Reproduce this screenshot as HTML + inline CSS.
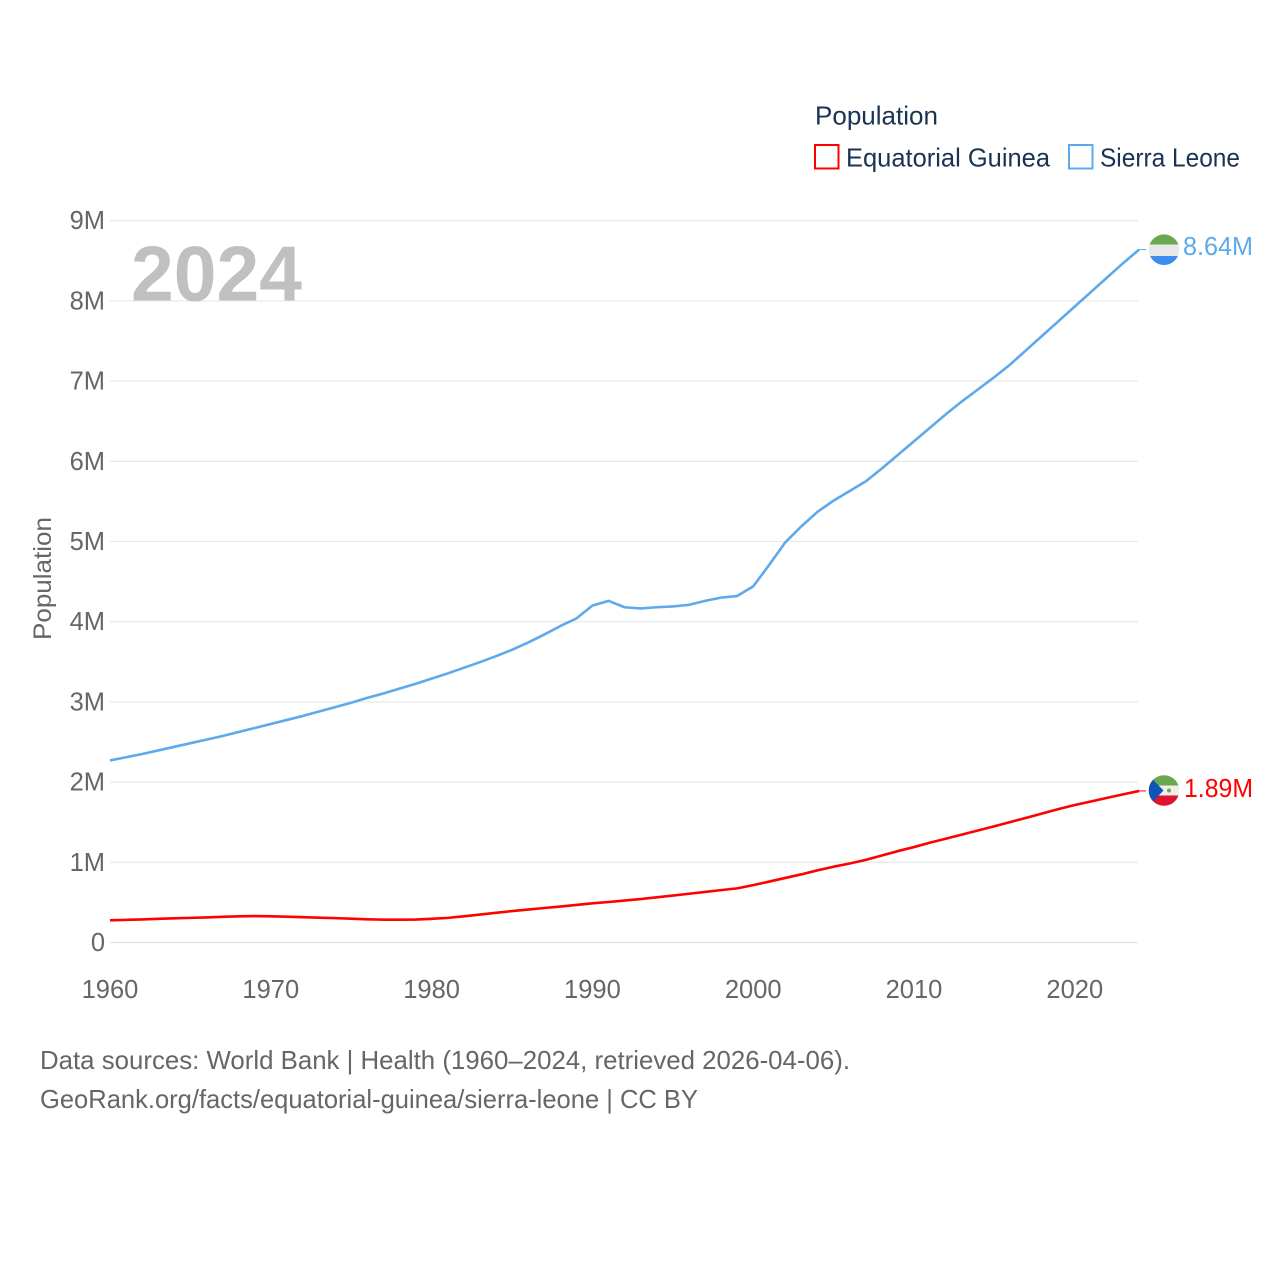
<!DOCTYPE html>
<html lang="en">
<head>
<meta charset="utf-8">
<title>Population: Equatorial Guinea and Sierra Leone</title>
<style>
html,body{margin:0;padding:0;background:#fff;width:1280px;height:1280px;overflow:hidden}
svg{display:block}
text{font-family:"Liberation Sans",sans-serif}
</style>
</head>
<body>
<svg id="chart" width="1280" height="1280" viewBox="0 0 1280 1280" xmlns="http://www.w3.org/2000/svg">
  <defs>
    <clipPath id="clip-sl"><circle cx="1164" cy="249.7" r="15.3"/></clipPath>
    <clipPath id="clip-eg"><circle cx="1164" cy="790.5" r="15.3"/></clipPath>
  </defs>
  <rect x="0" y="0" width="1280" height="1280" fill="#fff"/>
  <g id="grid"></g>
  <text x="131" y="300.5" font-size="78" font-weight="700" fill="#c0c0c0" textLength="171" lengthAdjust="spacingAndGlyphs">2024</text>
  <g id="yticks"></g>
  <g id="xticks"></g>
  <text transform="translate(51,640) rotate(-90)" font-size="25" fill="#666" textLength="123" lengthAdjust="spacingAndGlyphs">Population</text>
  <g id="series"></g>

  <g>
    <text x="815" y="124.5" font-size="26" fill="#1a3353" textLength="123" lengthAdjust="spacingAndGlyphs">Population</text>
    <g>
      <rect x="815" y="145" width="23.5" height="23.5" fill="#fff" stroke="#ff0000" stroke-width="2"/>
      <text x="846" y="166.5" font-size="26" fill="#1a3353" textLength="204" lengthAdjust="spacingAndGlyphs">Equatorial Guinea</text>
    </g>
    <g>
      <rect x="1069" y="145" width="23.5" height="23.5" fill="#fff" stroke="#5ea9ec" stroke-width="2"/>
      <text x="1100" y="166.5" font-size="26" fill="#1a3353" textLength="140" lengthAdjust="spacingAndGlyphs">Sierra Leone</text>
    </g>
  </g>

  <g clip-path="url(#clip-sl)">
    <rect x="1148" y="234" width="32" height="10.5" fill="#6aa84f"/>
    <rect x="1148" y="244.5" width="32" height="11.5" fill="#e8e8e8"/>
    <rect x="1148" y="256" width="32" height="10" fill="#3b8df0"/>
  </g>
  <g clip-path="url(#clip-eg)">
    <rect x="1148" y="775" width="32" height="10.5" fill="#6aa84f"/>
    <rect x="1148" y="785.5" width="32" height="10" fill="#eeeeee"/>
    <rect x="1148" y="795.5" width="32" height="11" fill="#e0122f"/>
    <polygon points="1148,774.5 1163.5,790.5 1148,806.5" fill="#0f55b5"/>
    <circle cx="1169" cy="790.5" r="2" fill="#6aa84f"/>
  </g>
  <text x="1183" y="255" font-size="26" fill="#5ea9ec" textLength="70" lengthAdjust="spacingAndGlyphs">8.64M</text>
  <text x="1184" y="797" font-size="26" fill="#ff0000" textLength="69" lengthAdjust="spacingAndGlyphs">1.89M</text>

  <text x="40" y="1069" font-size="26" fill="#666" textLength="810" lengthAdjust="spacingAndGlyphs">Data sources: World Bank | Health (1960–2024, retrieved 2026-04-06).</text>
  <text x="40" y="1108" font-size="26" fill="#666" textLength="658" lengthAdjust="spacingAndGlyphs">GeoRank.org/facts/equatorial-guinea/sierra-leone | CC BY</text>
</svg>
<script>
const startYear = 1960;
const yTickValues = [0, 1, 2, 3, 4, 5, 6, 7, 8, 9];
const yTickLabels = ["0", "1M", "2M", "3M", "4M", "5M", "6M", "7M", "8M", "9M"];
const xTickYears = [1960, 1970, 1980, 1990, 2000, 2010, 2020];
const sierraLeone = [
  2.27, 2.31, 2.35, 2.395, 2.44, 2.485, 2.53, 2.575, 2.625, 2.675,
  2.725, 2.775, 2.825, 2.88, 2.935, 2.99, 3.05, 3.105, 3.165, 3.225,
  3.29, 3.355, 3.425, 3.495, 3.57, 3.65, 3.74, 3.84, 3.945, 4.04,
  4.20, 4.26, 4.18, 4.165, 4.18, 4.19, 4.21, 4.26, 4.30, 4.32,
  4.44, 4.71, 4.99, 5.19, 5.37, 5.51, 5.63, 5.75, 5.91, 6.08,
  6.25, 6.42, 6.59, 6.75, 6.90, 7.05, 7.21, 7.39, 7.57, 7.75,
  7.93, 8.11, 8.29, 8.47, 8.64
];
const equatorialGuinea = [
  0.277, 0.282, 0.288, 0.295, 0.301, 0.307, 0.313, 0.320, 0.326, 0.330,
  0.327, 0.322, 0.316, 0.310, 0.304, 0.297, 0.289, 0.285, 0.284, 0.286,
  0.295, 0.307, 0.327, 0.348, 0.370, 0.392, 0.411, 0.430, 0.448, 0.468,
  0.489, 0.505, 0.523, 0.542, 0.563, 0.585, 0.608, 0.630, 0.653, 0.675,
  0.715, 0.760, 0.805, 0.850, 0.900, 0.945, 0.985, 1.030, 1.085, 1.140,
  1.190, 1.245, 1.295, 1.347, 1.398, 1.450, 1.503, 1.555, 1.610, 1.665,
  1.715, 1.758, 1.803, 1.847, 1.890
];

const SVG_NS = 'http://www.w3.org/2000/svg';
function xScale(year) { return 110 + (year - 1960) * 16.08; }
function yScale(m) { return 942.5 - m * 80.2; }
function make(tag, attrs, text) {
  const el = document.createElementNS(SVG_NS, tag);
  for (const k in attrs) el.setAttribute(k, attrs[k]);
  if (text !== undefined) el.textContent = text;
  return el;
}

const grid = document.getElementById('grid');
const yticks = document.getElementById('yticks');
yTickValues.forEach((v, i) => {
  const line = make('line', { x1: 110, x2: 1138, y1: yScale(v), y2: yScale(v), stroke: i === 0 ? '#e2e2e2' : '#eaeaea', 'stroke-width': 1.3 });
  
  
  grid.appendChild(line);
  const label = make('text', { x: 105, y: yScale(v) + 8.5, 'text-anchor': 'end', 'font-size': 25.5, fill: '#666' }, yTickLabels[i]);
  
  
  yticks.appendChild(label);
});

const xticks = document.getElementById('xticks');
xTickYears.forEach((year) => {
  const label = make('text', { x: xScale(year), y: 998, 'text-anchor': 'middle', 'font-size': 25.5, fill: '#666' }, String(year));
  
  
  xticks.appendChild(label);
});

function pointsFor(values) {
  return values.map((v, i) => xScale(startYear + i).toFixed(2) + ',' + yScale(v).toFixed(2)).join(' ');
}
const seriesGroup = document.getElementById('series');

const lineEG = make('polyline', { points: pointsFor(equatorialGuinea), fill: 'none', stroke: '#ff0000', 'stroke-width': 2.6, 'stroke-linejoin': 'round' });


seriesGroup.appendChild(lineEG);

const lineSL = make('polyline', { points: pointsFor(sierraLeone), fill: 'none', stroke: '#5ea9ec', 'stroke-width': 2.6, 'stroke-linejoin': 'round' });


seriesGroup.appendChild(lineSL);

const lastX = xScale(startYear + sierraLeone.length - 1);
const connSL = make('line', { x1: lastX, x2: lastX + 7, y1: yScale(sierraLeone[sierraLeone.length - 1]), y2: yScale(sierraLeone[sierraLeone.length - 1]), stroke: '#5ea9ec', 'stroke-width': 1 });


seriesGroup.appendChild(connSL);

const connEG = make('line', { x1: lastX, x2: lastX + 7, y1: yScale(equatorialGuinea[equatorialGuinea.length - 1]), y2: yScale(equatorialGuinea[equatorialGuinea.length - 1]), stroke: '#ff0000', 'stroke-width': 1 });


seriesGroup.appendChild(connEG);
</script>
</body>
</html>
